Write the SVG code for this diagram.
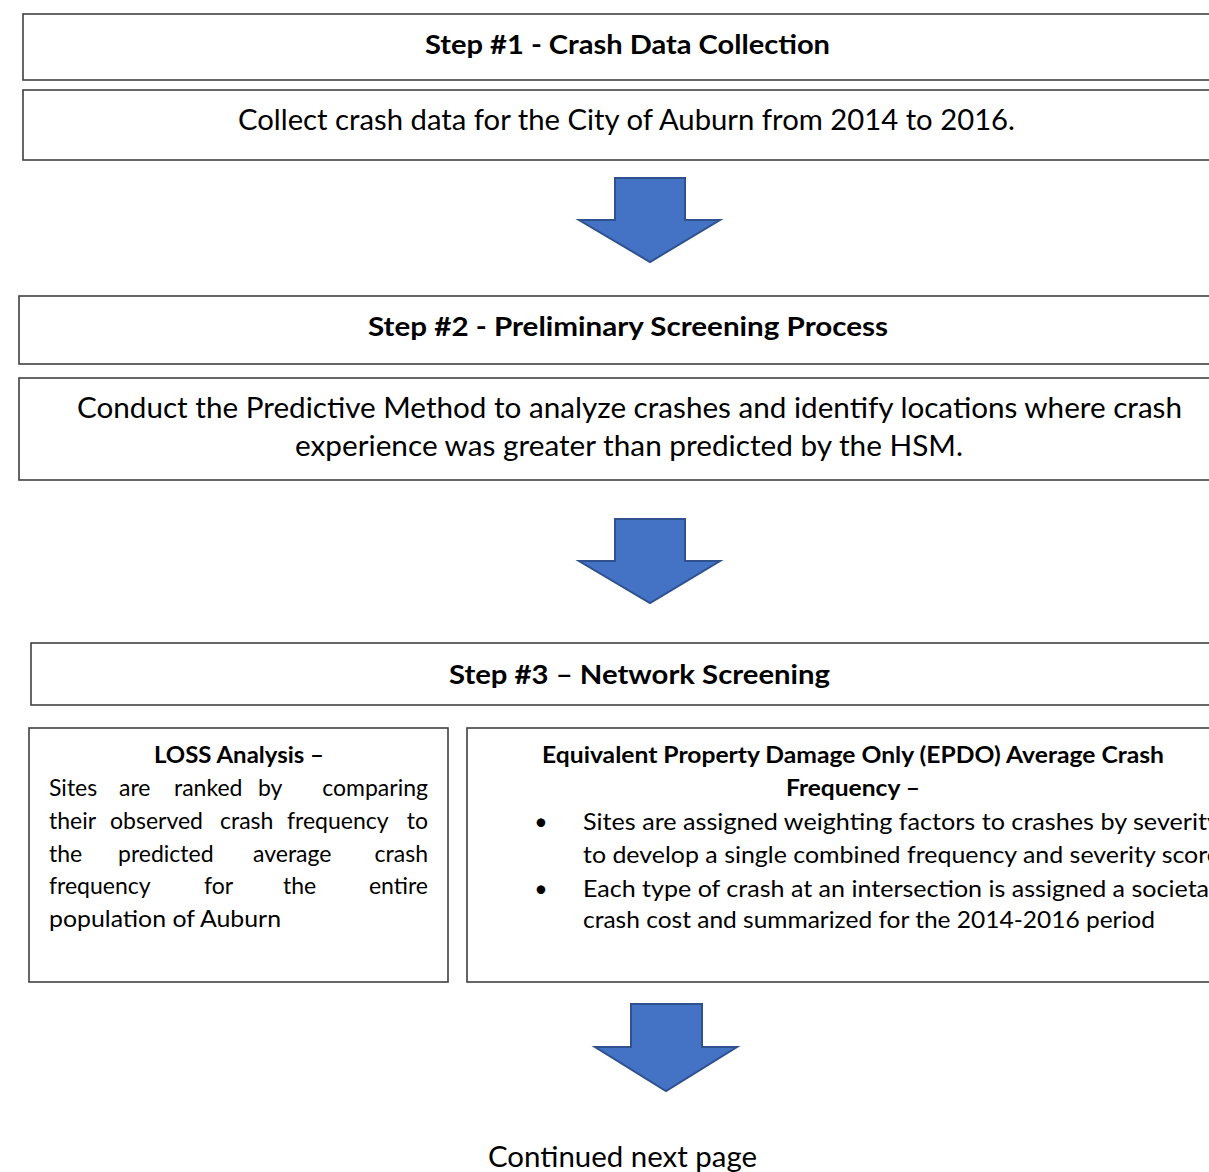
<svg xmlns="http://www.w3.org/2000/svg" width="1209" height="1172" viewBox="0 0 1209 1172">
<style>
.box{fill:#ffffff;stroke:#404040;stroke-width:1.6}
.arr{fill:#4472C4;stroke:#2F528F;stroke-width:2;stroke-linejoin:miter}
text{font-family:Lato,"Open Sans","Liberation Sans",sans-serif;fill:#000000}
.t{font-weight:bold;font-size:26px}
.b{font-size:28px}
.s{font-size:23px}
.sb{font-size:22.5px;font-weight:bold}
.e{text-anchor:end}
</style>
<rect width="1209" height="1172" fill="#ffffff"/>
<g id="connectors">
<path class="arr" d="M615,178 H685 V220 H720 L650,262 L579,220 H615 Z"/>
<path class="arr" d="M615,519 H685 V561 H720 L650,603 L579,561 H615 Z"/>
<path class="arr" d="M631,1004 H702 V1047 H737 L666,1091 L595,1047 H631 Z"/>
</g>
<g id="step1-title">
<rect class="box" x="23" y="14" width="1220" height="66"/>
<text class="t" x="425" y="54" textLength="405" lengthAdjust="spacingAndGlyphs">Step #1 - Crash Data Collection</text>
</g>
<g id="step1-body">
<rect class="box" x="23" y="90" width="1220" height="70"/>
<text class="b" x="238" y="130" textLength="777" lengthAdjust="spacingAndGlyphs">Collect crash data for the City of Auburn from 2014 to 2016.</text>
</g>
<g id="step2-title">
<rect class="box" x="19" y="296" width="1220" height="68"/>
<text class="t" x="368" y="336" textLength="520" lengthAdjust="spacingAndGlyphs">Step #2 - Preliminary Screening Process</text>
</g>
<g id="step2-body">
<rect class="box" x="19" y="378" width="1220" height="102"/>
<text class="b" x="77" y="418" textLength="1105" lengthAdjust="spacingAndGlyphs">Conduct the Predictive Method to analyze crashes and identify locations where crash</text>
<text class="b" x="295" y="456" textLength="668" lengthAdjust="spacingAndGlyphs">experience was greater than predicted by the HSM.</text>
</g>
<g id="step3-title">
<rect class="box" x="31" y="643" width="1210" height="62"/>
<text class="t" x="449" y="684" textLength="381" lengthAdjust="spacingAndGlyphs">Step #3 – Network Screening</text>
</g>
<g id="loss">
<rect class="box" x="29" y="728" width="419" height="254"/>
<text class="sb" x="154" y="763" textLength="170" lengthAdjust="spacingAndGlyphs">LOSS Analysis –</text>
<text class="s" y="796"><tspan x="49">Sites</tspan><tspan x="119">are</tspan><tspan x="174">ranked</tspan><tspan x="258">by</tspan></text>
<text class="s e" x="428" y="796">comparing</text>
<text class="s" y="829"><tspan x="49">their</tspan><tspan x="110">observed</tspan><tspan x="220">crash</tspan><tspan x="287">frequency</tspan></text>
<text class="s e" x="428" y="829">to</text>
<text class="s" y="862"><tspan x="49">the</tspan><tspan x="118">predicted</tspan><tspan x="253">average</tspan></text>
<text class="s e" x="428" y="862">crash</text>
<text class="s" y="894"><tspan x="49">frequency</tspan><tspan x="204">for</tspan><tspan x="283">the</tspan></text>
<text class="s e" x="428" y="894">entire</text>
<text class="s" x="49" y="927" textLength="232" lengthAdjust="spacingAndGlyphs">population of Auburn</text>
</g>
<g id="epdo">
<rect class="box" x="467" y="728" width="770" height="254"/>
<text class="sb" x="542" y="763" textLength="622" lengthAdjust="spacingAndGlyphs">Equivalent Property Damage Only (EPDO) Average Crash</text>
<text class="sb" x="786" y="796" textLength="134" lengthAdjust="spacingAndGlyphs">Frequency –</text>
<text class="s" x="541" y="830" text-anchor="middle">•</text>
<text class="s" x="583" y="830" textLength="637" lengthAdjust="spacingAndGlyphs">Sites are assigned weighting factors to crashes by severity</text>
<text class="s" x="583" y="863" textLength="637" lengthAdjust="spacingAndGlyphs">to develop a single combined frequency and severity score</text>
<text class="s" x="541" y="897" text-anchor="middle">•</text>
<text class="s" x="583" y="897" textLength="632" lengthAdjust="spacingAndGlyphs">Each type of crash at an intersection is assigned a societal</text>
<text class="s" x="583" y="928" textLength="572" lengthAdjust="spacingAndGlyphs">crash cost and summarized for the 2014-2016 period</text>
</g>
<g id="continued">
<text class="b" x="488" y="1167" textLength="269" lengthAdjust="spacingAndGlyphs">Continued next page</text>
</g>
</svg>
